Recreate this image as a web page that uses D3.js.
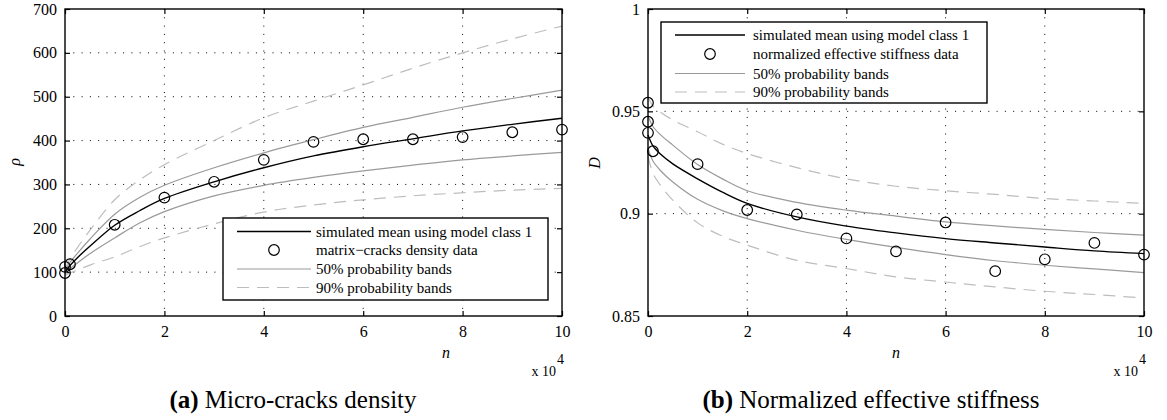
<!DOCTYPE html>
<html>
<head>
<meta charset="utf-8">
<script src="https://cdn.jsdelivr.net/npm/d3@7"></script>
<style>
  body { margin: 0; background: #fff; }
  svg text { font-family: "Liberation Serif", Tinos, "Times New Roman", Times, "DejaVu Serif", serif; fill: #000; }
</style>
</head>
<body>
<svg id="fig" width="1167" height="420"></svg>
<script>
// n in units of 1e4 cycles, shared sample grid for the curves
var nGrid = [0, 0.1, 0.25, 0.5, 1, 1.5, 2, 3, 4, 5, 6, 7, 8, 9, 10];

// (a) micro-cracks density
var rhoMean  = [100, 115, 133, 159, 207, 240, 268, 306, 338, 365, 386, 404, 422, 437, 451];
var rhoUp50  = [104, 122, 143, 175, 232, 270, 298, 338, 372, 402, 430, 453, 476, 496, 515];
var rhoLo50  = [96, 108, 121, 142, 178, 212, 238, 274, 298, 316, 331, 344, 356, 365, 373];
var rhoUp90  = [108, 130, 156, 195, 265, 310, 345, 400, 452, 490, 527, 565, 600, 632, 661];
var rhoLo90  = [92, 98, 105, 116, 135, 158, 178, 210, 237, 253, 265, 274, 281, 287, 291];
var rhoDataN = [0, 0, 0.1, 1, 2, 3, 4, 5, 6, 7, 8, 9, 10];
var rhoData  = [98, 112, 118, 208, 270, 306, 356, 397, 403, 403, 408, 419, 425];
var rhoTicks = [0, 100, 200, 300, 400, 500, 600, 700];

// (b) normalized effective stiffness
var dMean  = [0.9385, 0.9331, 0.9291, 0.9243, 0.917, 0.9105, 0.905, 0.8984, 0.8939, 0.8906, 0.8878, 0.8857, 0.8837, 0.8818, 0.8805];
var dUp50  = [0.948, 0.9426, 0.9386, 0.9335, 0.924, 0.917, 0.9112, 0.9055, 0.9017, 0.8988, 0.896, 0.894, 0.8923, 0.8908, 0.8895];
var dLo50  = [0.932, 0.9257, 0.9211, 0.9155, 0.907, 0.9015, 0.8976, 0.8919, 0.8874, 0.8835, 0.880, 0.877, 0.8748, 0.873, 0.8712];
var dUp90  = [0.957, 0.9527, 0.9496, 0.9458, 0.940, 0.934, 0.9294, 0.9225, 0.917, 0.9134, 0.9112, 0.9094, 0.9074, 0.9062, 0.905];
var dLo90  = [0.928, 0.9198, 0.9139, 0.9066, 0.8955, 0.889, 0.8846, 0.8772, 0.8732, 0.8691, 0.8666, 0.8642, 0.8621, 0.8605, 0.8588];
var dDataN = [0, 0, 0, 0.1, 1, 2, 3, 4, 5, 6, 7, 8, 9, 10];
var dData  = [0.9542, 0.9449, 0.9395, 0.9305, 0.9242, 0.9018, 0.8996, 0.8879, 0.8816, 0.8957, 0.8719, 0.8777, 0.8857, 0.8800];
var dTicks = [0.85, 0.9, 0.95, 1];

var nTicks = [0, 2, 4, 6, 8, 10];
var legendA = ["simulated mean using model class 1", "matrix\u2212cracks density data", "50% probability bands", "90% probability bands"];
var legendB = ["simulated mean using model class 1", "normalized effective stiffness data", "50% probability bands", "90% probability bands"];

var svg = d3.select("#fig");
var GRAY50 = "#9a9a9a", GRAY90 = "#bdbdbd";

function panel(o) {
  var x = d3.scaleLinear().domain([0, 10]).range([o.left, o.right]);
  var y = d3.scaleLinear().domain(o.yDomain).range([o.bottom, o.top]);
  var g = svg.append("g");

  // dotted grid
  g.selectAll(".gx").data(nTicks.slice(1, -1)).enter().append("line")
    .attr("x1", function(d) { return x(d); }).attr("x2", function(d) { return x(d); })
    .attr("y1", o.top).attr("y2", o.bottom)
    .attr("stroke", "#000").attr("stroke-width", 1).attr("stroke-dasharray", "1,7.3");
  g.selectAll(".gy").data(o.yTicks.slice(1, -1)).enter().append("line")
    .attr("y1", function(d) { return y(d); }).attr("y2", function(d) { return y(d); })
    .attr("x1", o.left).attr("x2", o.right)
    .attr("stroke", "#000").attr("stroke-width", 1).attr("stroke-dasharray", "1,7.3");

  // axes, ticks inward on all sides
  var ax = g.append("g").attr("transform", "translate(0," + o.bottom + ")")
    .call(d3.axisBottom(x).tickValues(nTicks).tickSizeInner(-5).tickSizeOuter(0).tickPadding(10).tickFormat(d3.format("d")));
  var axT = g.append("g").attr("transform", "translate(0," + o.top + ")")
    .call(d3.axisTop(x).tickValues(nTicks).tickSizeInner(-5).tickSizeOuter(0).tickFormat(""));
  var ay = g.append("g").attr("transform", "translate(" + o.left + ",0)")
    .call(d3.axisLeft(y).tickValues(o.yTicks).tickSizeInner(-5).tickSizeOuter(0).tickPadding(8).tickFormat(o.fmt));
  var ayR = g.append("g").attr("transform", "translate(" + o.right + ",0)")
    .call(d3.axisRight(y).tickValues(o.yTicks).tickSizeInner(-5).tickSizeOuter(0).tickFormat(""));
  [ax, axT, ay, ayR].forEach(function(a) {
    a.attr("font-family", null);
    a.select(".domain").remove();
    a.selectAll("line").attr("stroke", "#000").attr("stroke-width", 1.2);
    a.selectAll("text").attr("font-size", 16);
  });

  var line = d3.line().x(function(d) { return x(d[0]); }).y(function(d) { return y(d[1]); })
    .curve(d3.curveCatmullRom.alpha(0.5));
  function draw(vals, color, w, dash) {
    g.append("path").datum(nGrid.map(function(n, i) { return [n, vals[i]]; }))
      .attr("d", line).attr("fill", "none").attr("stroke", color)
      .attr("stroke-width", w).attr("stroke-dasharray", dash || null);
  }
  draw(o.up90, GRAY90, 1.2, "12,8");
  draw(o.lo90, GRAY90, 1.2, "12,8");
  draw(o.up50, GRAY50, 1.2);
  draw(o.lo50, GRAY50, 1.2);
  draw(o.mean, "#000", 1.4);

  g.selectAll(".pt").data(o.dataN).enter().append("circle")
    .attr("cx", function(d) { return x(d); })
    .attr("cy", function(d, i) { return y(o.data[i]); })
    .attr("r", 5.3).attr("fill", "none").attr("stroke", "#000").attr("stroke-width", 1.2);

  // frame
  g.append("rect").attr("x", o.left).attr("y", o.top)
    .attr("width", o.right - o.left).attr("height", o.bottom - o.top)
    .attr("fill", "none").attr("stroke", "#000").attr("stroke-width", 1.4);

  // labels
  g.append("text").attr("x", o.nx).attr("y", 358).attr("text-anchor", "middle")
    .attr("font-style", "italic").attr("font-size", 16).text("n");
  g.append("text").attr("x", o.right - 6).attr("y", 376).attr("text-anchor", "end")
    .attr("font-size", 14).text("x 10");
  g.append("text").attr("x", o.right - 5).attr("y", 364).attr("font-size", 14).text("4");
  g.append("text").attr("transform", "translate(" + o.ylx + "," + o.yly + ") rotate(-90)")
    .attr("text-anchor", "middle").attr("font-style", "italic").attr("font-size", 16).text(o.ylabel);

  // legend
  var L = o.leg;
  var lg = g.append("g");
  lg.append("rect").attr("x", L.x0).attr("y", L.y0).attr("width", L.x1 - L.x0).attr("height", L.y1 - L.y0)
    .attr("fill", "#fff").attr("stroke", "#000").attr("stroke-width", 1.4);
  var styles = [["#000", 1.4, null], null, [GRAY50, 1.2, null], [GRAY90, 1.2, "12,8"]];
  o.legText.forEach(function(t, i) {
    var yy = L.rows[i];
    if (styles[i]) {
      lg.append("line").attr("x1", L.lx0).attr("x2", L.lx1).attr("y1", yy).attr("y2", yy)
        .attr("stroke", styles[i][0]).attr("stroke-width", styles[i][1]).attr("stroke-dasharray", styles[i][2]);
    } else {
      lg.append("circle").attr("cx", (L.lx0 + L.lx1) / 2).attr("cy", yy).attr("r", 5.3)
        .attr("fill", "none").attr("stroke", "#000").attr("stroke-width", 1.2);
    }
    lg.append("text").attr("x", L.tx).attr("y", yy + 5).attr("font-size", 15).text(t);
  });

  // caption
  var cap = svg.append("text").attr("x", o.capX).attr("y", 408).attr("text-anchor", "middle").attr("font-size", 25);
  cap.append("tspan").attr("font-weight", "bold").text(o.capTag);
  cap.append("tspan").text(" " + o.capText);
}

panel({
  left: 65, right: 562, top: 9, bottom: 316,
  yDomain: [0, 700], yTicks: rhoTicks, fmt: d3.format("d"),
  mean: rhoMean, up50: rhoUp50, lo50: rhoLo50, up90: rhoUp90, lo90: rhoLo90,
  dataN: rhoDataN, data: rhoData,
  nx: 446, ylx: 20, yly: 162, ylabel: "\u03c1",
  leg: { x0: 223, y0: 218, x1: 548, y1: 300, lx0: 237, lx1: 311, tx: 316, rows: [231.5, 250, 269, 287.5] },
  legText: legendA,
  capX: 293, capTag: "(a)", capText: "Micro-cracks density"
});

panel({
  left: 648, right: 1144, top: 9, bottom: 316,
  yDomain: [0.85, 1], yTicks: dTicks, fmt: function(d) { return d3.format("")(+d.toFixed(2)); },
  mean: dMean, up50: dUp50, lo50: dLo50, up90: dUp90, lo90: dLo90,
  dataN: dDataN, data: dData,
  nx: 896, ylx: 600, yly: 163, ylabel: "D",
  leg: { x0: 661, y0: 22, x1: 987, y1: 103, lx0: 675, lx1: 745, tx: 753, rows: [35, 54, 73.5, 92] },
  legText: legendB,
  capX: 871, capTag: "(b)", capText: "Normalized effective stiffness"
});
</script>
</body>
</html>
